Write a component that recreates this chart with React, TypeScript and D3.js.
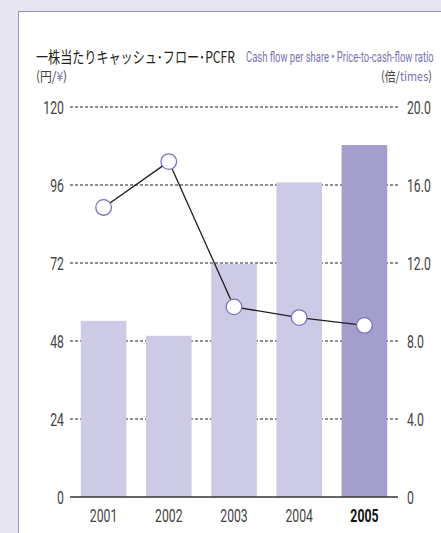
import React, { useLayoutEffect, useRef, useState } from "react";
import * as d3 from "d3";

const years = ["2001", "2002", "2003", "2004", "2005"];
const cashFlow = [54.2, 49.6, 71.7, 96.8, 108.3];
const pcfr = [14.85, 17.2, 9.75, 9.2, 8.8];
const leftTicks = [0, 24, 48, 72, 96, 120];
const rightTicks = [0, 4, 8, 12, 16, 20];
const rightTickLabels = ["0", "4.0", "8.0", "12.0", "16.0", "20.0"];

const FONT = "Roboto, 'Noto Sans', sans-serif";
const JP = "'Noto Sans CJK JP', sans-serif";
const SX = 0.68;

function CText(props: { x: number; y: number; anchor?: string; size?: number; fill?: string; weight?: string; children: React.ReactNode; sx?: number; family?: string }) {
  const { x, y, anchor = "start", size = 18, fill = "#444", weight = "normal", children, sx = SX, family = FONT } = props;
  return (
    <text transform={`translate(${x},${y}) scale(${sx},1)`} textAnchor={anchor} fontSize={size} fill={fill} fontWeight={weight} fontFamily={family}>
      {children}
    </text>
  );
}

function FitText(props: { x: number; y: number; width: number; size: number; fill?: string; family?: string; children: React.ReactNode }) {
  const { x, y, width, size, fill = "#231f20", family = FONT, children } = props;
  const ref = useRef<SVGTextElement>(null);
  const [sx, setSx] = useState(1);
  useLayoutEffect(() => {
    if (ref.current) {
      const w = ref.current.getComputedTextLength();
      if (w > 0) setSx(width / w);
    }
  }, [width]);
  return (
    <text ref={ref} transform={`translate(${x},${y}) scale(${sx},1)`} fontSize={size} fill={fill} fontFamily={family}>
      {children}
    </text>
  );
}

export default function App() {
  const W = 441, H = 533;
  const x0 = 70, x1 = 398;
  const yTop = 107, yBot = 497;
  const x = d3.scaleBand<string>().domain(years).range([x0 + 1, x1 - 1]).paddingInner(0.3).paddingOuter(0.15);
  const yL = d3.scaleLinear().domain([0, 120]).range([yBot, yTop]);
  const yR = d3.scaleLinear().domain([0, 20]).range([yBot, yTop]);
  const cx = (i: number) => (x(years[i]) as number) + x.bandwidth() / 2;
  const line = d3.line<number>().x((_, i) => cx(i)).y((d) => yR(d));
  return (
    <svg width={W} height={H} style={{ position: "absolute", left: 0, top: 0 }} fontFamily={FONT}>
      <rect x={0} y={0} width={W} height={H} fill="#e8e6f2" />
      <rect x={18.5} y={11.5} width={W} height={H} fill="#ffffff" stroke="#9893c8" strokeWidth={1} />
      <FitText x={36} y={63} width={199} size={16} family={JP}>一株当たりキャッシュ･フロー･PCFR</FitText>
      <FitText x={246} y={62} width={188} size={14.5} fill="#7a72b8">Cash flow per share • Price-to-cash-flow ratio</FitText>
      <FitText x={36} y={81} width={31} size={13} fill="#444" family={JP}>(円/<tspan fill="#7a72b8">¥</tspan>)</FitText>
      <FitText x={381} y={81} width={51} size={13} fill="#444" family={JP}>(倍/<tspan fill="#7a72b8">times</tspan>)</FitText>
      {leftTicks.filter((t) => t > 0).map((t) => (
        <line key={t} x1={x0} x2={x1} y1={yL(t)} y2={yL(t)} stroke="#231f20" strokeWidth={1.2} strokeDasharray="3 2" />
      ))}
      {leftTicks.map((t) => (
        <CText key={"l" + t} x={64} y={yL(t) + 6.5} anchor="end">{t}</CText>
      ))}
      {rightTicks.map((t, i) => (
        <CText key={"r" + t} x={407} y={yR(t) + 6.5}>{rightTickLabels[i]}</CText>
      ))}
      {years.map((yr, i) => (
        <rect key={yr} x={x(yr)} y={yL(cashFlow[i])} width={x.bandwidth()} height={yBot - yL(cashFlow[i])}
          fill={i === years.length - 1 ? "#a39ecc" : "#cccae5"} />
      ))}
      <line x1={x0} x2={x1} y1={yBot} y2={yBot} stroke="#333" strokeWidth={1.3} />
      {years.map((yr, i) => (
        <CText key={"y" + yr} x={cx(i)} y={522} anchor="middle"
          fill={i === years.length - 1 ? "#111" : "#444"} weight={i === years.length - 1 ? "bold" : "normal"}>{yr}</CText>
      ))}
      <path d={line(pcfr) as string} fill="none" stroke="#231f20" strokeWidth={1.3} />
      {pcfr.map((v, i) => (
        <circle key={i} cx={cx(i)} cy={yR(v)} r={7.8} fill="#fff" stroke="#7a72c0" strokeWidth={1.3} />
      ))}
    </svg>
  );
}
